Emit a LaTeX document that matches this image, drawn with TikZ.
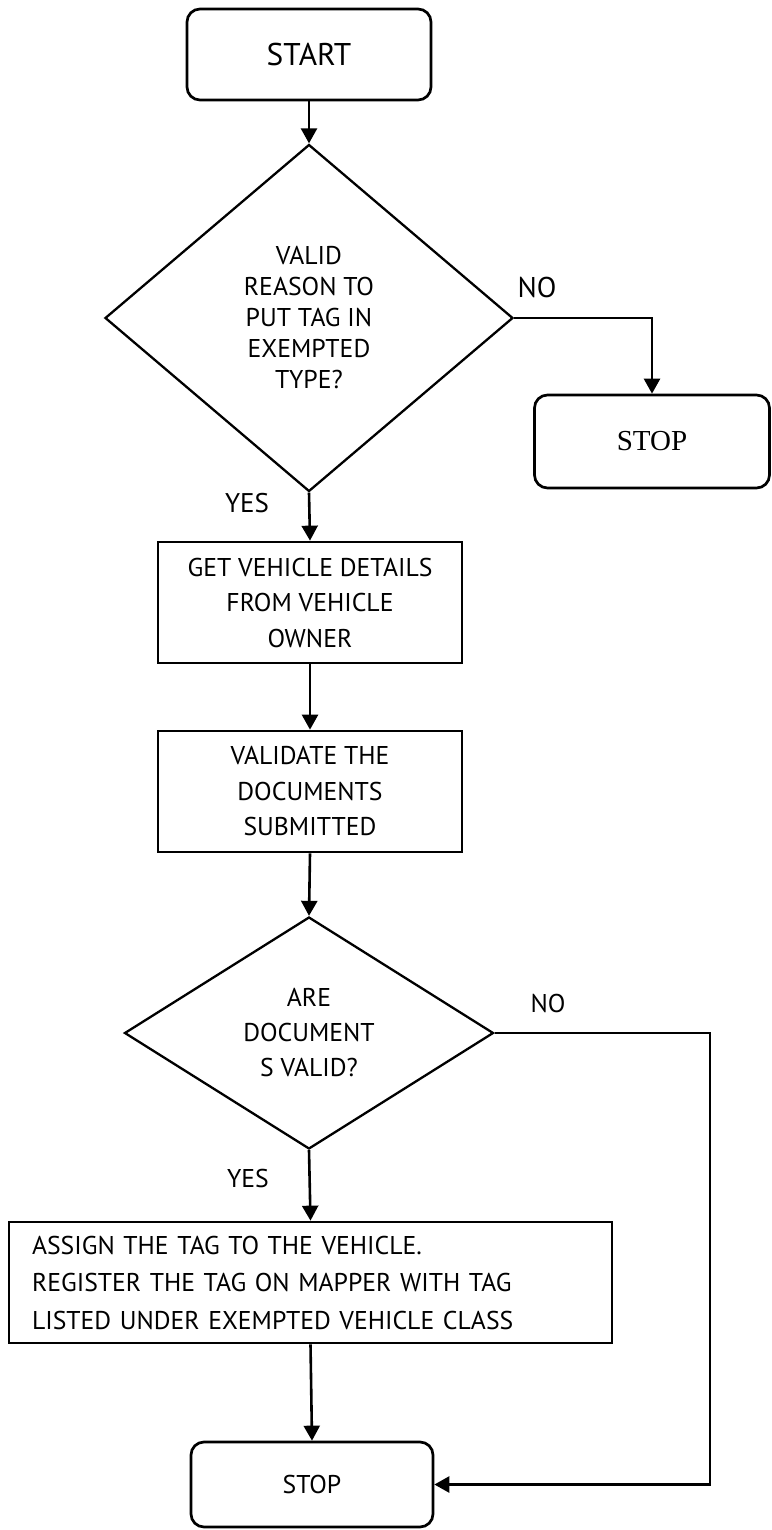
\documentclass[tikz,border=0pt]{standalone}
\usepackage{fontspec}
\setmainfont{PT Sans}
\newfontfamily\serifstop{Liberation Serif}
\usetikzlibrary{shapes.geometric,arrows.meta}
\tikzset{
  base/.style={draw=black, line width=2.7pt, inner sep=0pt, align=center},
  rounded/.style={base, rectangle, rounded corners=13pt},
  procbox/.style={base, rectangle},
  decision/.style={draw=black, line width=2.3pt, diamond, inner sep=0pt, align=center},
  lbl/.style={inner sep=0pt},
  conn/.style={line width=2.6pt, -{Triangle[length=15pt,width=16pt]}},
  plain/.style={line width=2.6pt}
}
\begin{document}
\begin{tikzpicture}[x=1pt,y=-1pt]
\useasboundingbox (0,0) rectangle (771,1530);
\fill[white] (0,0) rectangle (771,1530);

\node[rounded, minimum width=244pt, minimum height=91pt, font=\fontsize{31.4}{36}\selectfont] (start) at (309,54.5) {START};

\node[decision, minimum width=408pt, minimum height=347pt, font=\fontsize{25.7}{31}\selectfont] (d1) at (309,318)
  {VALID\\REASON TO\\PUT TAG IN\\EXEMPTED\\TYPE?};

\node[lbl, font=\fontsize{28.6}{32}\selectfont] (no1) at (537,287) {NO};

\node[rounded, minimum width=235pt, minimum height=93pt, font=\serifstop\fontsize{29}{32}\selectfont] (stopr) at (652,441.5) {STOP};

\node[lbl, font=\fontsize{27}{30}\selectfont] (yes1) at (247,503) {YES};

\node[procbox, minimum width=304pt, minimum height=121pt, font=\fontsize{25.7}{35.5}\selectfont] (get) at (310,602.5)
  {GET VEHICLE DETAILS\\FROM VEHICLE\\OWNER};

\node[procbox, minimum width=304pt, minimum height=121pt, font=\fontsize{25.7}{35.5}\selectfont] (val) at (310,791.5)
  {VALIDATE THE\\DOCUMENTS\\SUBMITTED};

\node[decision, minimum width=369pt, minimum height=232pt, font=\fontsize{25.7}{35}\selectfont] (d2) at (309,1033)
  {ARE\\DOCUMENT\\S VALID?};

\node[lbl, font=\fontsize{25.7}{30}\selectfont] (no2) at (548,1003) {NO};

\node[lbl, font=\fontsize{25.7}{30}\selectfont] (yes2) at (248,1178) {YES};

\node[procbox, text width=557pt, inner xsep=23pt, minimum height=121pt, align=left, font=\fontsize{25.7}{37.5}\selectfont] (assign) at (310.5,1282.5)
  {ASSIGN THE TAG TO THE VEHICLE.\\REGISTER THE TAG ON MAPPER WITH TAG\\LISTED UNDER EXEMPTED VEHICLE CLASS};

\node[rounded, minimum width=242pt, minimum height=85pt, font=\fontsize{25.7}{30}\selectfont] (stopb) at (312,1484.5) {STOP};

\coordinate (c2) at (710,1033);

\draw[conn] (start.south) -- (d1.north);
\draw[conn] (d1.east) -| (stopr.north);
\draw[conn] (d1.south) -- (get.north);
\draw[conn] (get.south) -- (val.north);
\draw[conn] (val.south) -- (d2.north);
\draw[conn] (d2.south) -- (assign.north);
\draw[conn] (assign.south) -- (stopb.north);
\draw[conn] (d2.east) -- (c2) |- (stopb.east);
\end{tikzpicture}
\end{document}
